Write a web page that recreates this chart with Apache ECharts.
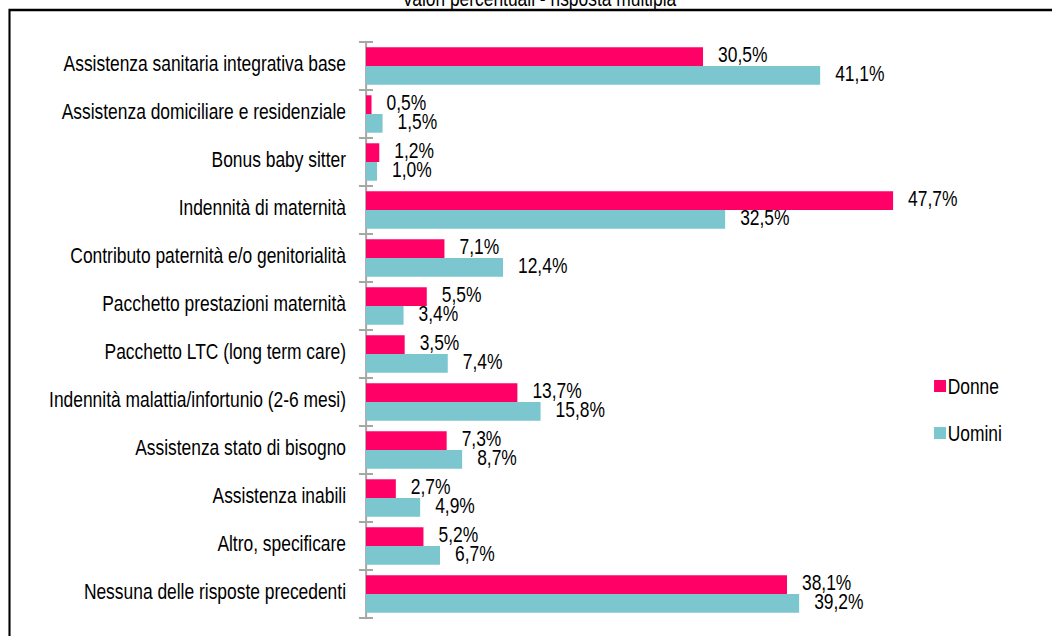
<!DOCTYPE html>
<html><head><meta charset="utf-8">
<script src="https://cdn.jsdelivr.net/npm/echarts@6/dist/echarts.min.js"></script>
<style>
html,body{margin:0;padding:0;background:#fff;overflow:hidden;width:1052px;height:636px}
#c{width:1299px;height:636px;transform:scaleX(0.81);transform-origin:0 0}
</style>
</head><body><div id="c"></div>
<script>
const categories = [
  'Assistenza sanitaria integrativa base',
  'Assistenza domiciliare e residenziale',
  'Bonus baby sitter',
  'Indennità di maternità',
  'Contributo paternità e/o genitorialità',
  'Pacchetto prestazioni maternità',
  'Pacchetto LTC (long term care)',
  'Indennità malattia/infortunio (2-6 mesi)',
  'Assistenza stato di bisogno',
  'Assistenza inabili',
  'Altro, specificare',
  'Nessuna delle risposte precedenti'
];
const donne = [30.5, 0.5, 1.2, 47.7, 7.1, 5.5, 3.5, 13.7, 7.3, 2.7, 5.2, 38.1];
const uomini = [41.1, 1.5, 1.0, 32.5, 12.4, 3.4, 7.4, 15.8, 8.7, 4.9, 6.7, 39.2];
const titleText = 'Valori percentuali - risposta multipla';

// The reference uses a condensed face; the canvas is drawn wider and squeezed horizontally by CSS (factor 0.81).
const K = 0.81;
const font = '"Liberation Sans", Arial, sans-serif';
const fs = 21.5;
const fmt = p => p.value.toFixed(1).replace('.', ',') + '%';
const chart = echarts.init(document.getElementById('c'), null, { renderer: 'svg' });
chart.setOption({
  animation: false,
  backgroundColor: '#fff',
  title: { text: titleText, left: 535 / K, textAlign: 'center', top: -18, textStyle: { fontFamily: font, fontSize: fs, fontWeight: 'normal', color: '#000' } },
  graphic: [{ type: 'rect', shape: { x: 9.5 / K, y: 10, width: 1400, height: 800 }, style: { fill: 'none', stroke: '#000', lineWidth: 2.6 }, silent: true, z: 100 }],
  legend: {
    orient: 'vertical', left: 930 / K, top: 370, itemWidth: 12 / K, itemHeight: 12, itemGap: 25,
    icon: 'rect',
    textStyle: { fontFamily: font, fontSize: fs, color: '#000', padding: [0, 0, 0, -3] },
    data: ['Donne', 'Uomini']
  },
  grid: { left: 366 / K, top: 42, width: 552.5 / K, bottom: 18, outerBoundsMode: 'none', containLabel: false },
  xAxis: { type: 'value', min: 0, max: 50, show: false },
  yAxis: [{
    type: 'category', data: categories, inverse: true,
    axisLine: { show: true, lineStyle: { color: '#a6a6a6', width: 2 / K } },
    axisTick: { show: true, length: 7 / K, lineStyle: { color: '#a6a6a6', width: 2 } },
    axisLabel: { fontFamily: font, fontSize: fs, color: '#000', margin: 20 / K, verticalAlign: 'bottom', lineHeight: 6 }
  }, {
    type: 'category', data: categories, inverse: true, position: 'left',
    axisLine: { show: false },
    axisTick: { show: true, inside: true, length: 7 / K, lineStyle: { color: '#a6a6a6', width: 2 } },
    axisLabel: { show: false }
  }],
  series: [{
    name: 'Donne', type: 'bar', data: donne, barGap: '0%', barCategoryGap: '22%',
    itemStyle: { color: '#FF0066' },
    label: { show: true, position: 'right', distance: 15 / K, offset: [0, -2], formatter: fmt, fontFamily: font, fontSize: fs, color: '#000' }
  }, {
    name: 'Uomini', type: 'bar', data: uomini, barGap: '0%', barCategoryGap: '22%',
    itemStyle: { color: '#7CC6D0' },
    label: { show: true, position: 'right', distance: 15 / K, offset: [0, -2], formatter: fmt, fontFamily: font, fontSize: fs, color: '#000' }
  }]
});
</script></body></html>
